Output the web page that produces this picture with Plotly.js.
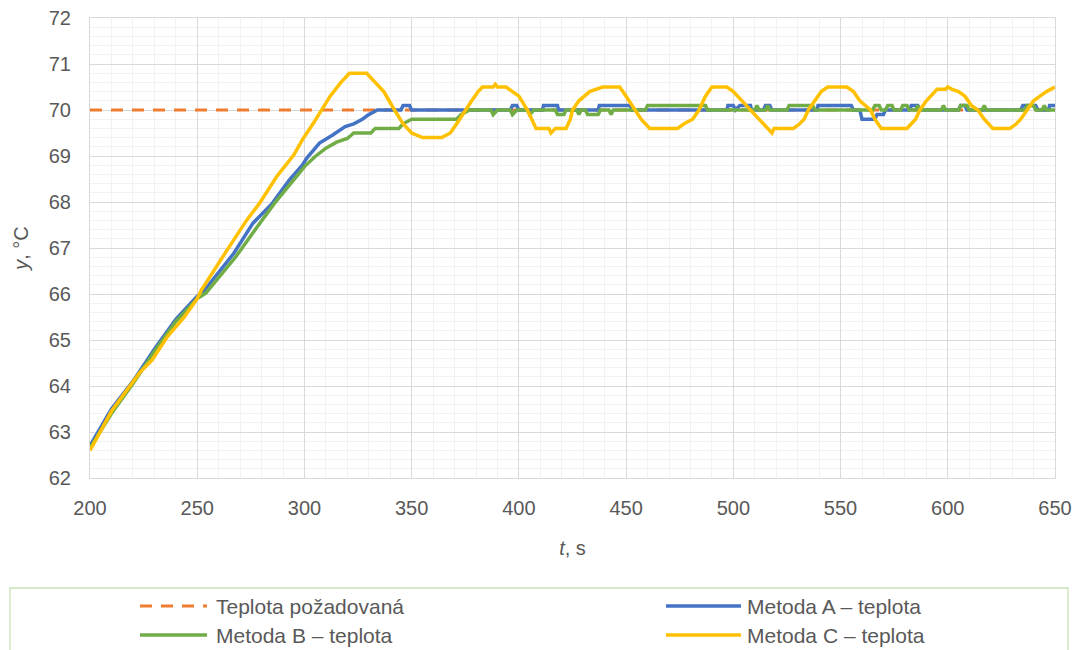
<!DOCTYPE html>
<html>
<head>
<meta charset="utf-8">
<script src="https://cdn.plot.ly/plotly-3.0.1.min.js"></script>
<style>
  html, body { margin: 0; padding: 0; background: #ffffff; }
  #chart { width: 1083px; height: 650px; }
</style>
</head>
<body>
<div id="chart"></div>
<script>
// Setpoint temperature, °C
const setpointT = [200, 650];
const setpointY = [70, 70];

// Method A – measured temperature (t in s, y in °C)
const methodAT = [200, 210, 220, 230, 240, 250, 253.5, 267, 276, 285, 293, 299, 301, 307, 313, 319, 323, 327, 330, 334,
  345, 346, 349, 350, 396, 397, 399, 400, 411, 411.5, 418, 418.5, 437, 437.5, 452, 452.5,
  497, 497.5, 500, 501, 503, 508, 508.5, 514, 515, 517, 518, 539, 539.5, 555, 556,
  559, 560, 566, 567, 570, 571, 582, 583, 586, 587, 605, 606, 608, 609, 634, 635, 641, 642, 647, 647.5, 650];
const methodAY = [62.7, 63.5, 64.1, 64.8, 65.45, 65.95, 66.09, 66.88, 67.54, 67.97, 68.48, 68.8, 68.95, 69.28, 69.45, 69.64, 69.7, 69.8, 69.9, 70.0,
  70.0, 70.1, 70.1, 70.0, 70.0, 70.1, 70.1, 70.0, 70.0, 70.1, 70.1, 70.0, 70.0, 70.1, 70.1, 70.0,
  70.0, 70.1, 70.1, 70.0, 70.1, 70.1, 70.0, 70.0, 70.1, 70.1, 70.0, 70.0, 70.1, 70.1, 70.0,
  70.0, 69.8, 69.8, 69.9, 69.9, 70.0, 70.0, 70.1, 70.1, 70.0, 70.0, 70.1, 70.1, 70.0, 70.0, 70.1, 70.1, 70.0, 70.0, 70.1, 70.1];

// Method B – measured temperature
const methodBT = [200, 210, 220, 230, 240, 250, 254, 268, 278, 286, 295, 300, 305, 310, 315, 320, 323, 331, 333, 344, 346, 350, 371, 373, 377,
  387, 388, 390, 396, 397, 399, 404, 405, 407, 417, 418, 421, 422, 427, 428, 429, 431, 432, 437, 438, 442, 443, 444,
  459, 460, 487, 488, 510, 511, 512, 515, 516, 517, 525, 526, 537, 538,
  565, 566, 568, 569, 571, 572, 574, 575, 578, 579, 581, 582, 585, 586, 587,
  597, 598, 599, 605, 606, 609, 610, 616, 617, 618, 636, 637, 640, 641, 644, 645, 646, 650];
const methodBY = [62.65, 63.4, 64.05, 64.75, 65.4, 65.9, 66.02, 66.81, 67.46, 67.97, 68.48, 68.77, 68.99, 69.17, 69.3, 69.38, 69.5, 69.5, 69.6, 69.6, 69.7, 69.8, 69.8, 69.9, 70.0,
  70.0, 69.9, 70.0, 70.0, 69.9, 70.0, 70.0, 69.9, 70.0, 70.0, 69.9, 69.9, 70.0, 70.0, 69.9, 70.0, 70.0, 69.9, 69.9, 70.0, 70.0, 69.9, 70.0,
  70.0, 70.1, 70.1, 70.0, 70.0, 70.1, 70.0, 70.0, 70.1, 70.0, 70.0, 70.1, 70.1, 70.0,
  70.0, 70.1, 70.1, 70.0, 70.0, 70.1, 70.1, 70.0, 70.0, 70.1, 70.1, 70.0, 70.0, 70.1, 70.0,
  70.0, 70.1, 70.0, 70.0, 70.1, 70.1, 70.0, 70.0, 70.1, 70.0, 70.0, 70.1, 70.1, 70.0, 70.0, 70.1, 70.0, 70.0];

// Method C – measured temperature
const methodCT = [200, 210, 223, 229, 236, 244, 250, 252, 264, 273, 279, 287, 295, 299, 304, 308, 312, 317, 321, 329,
  333, 337, 342, 346, 350, 355, 364, 368, 371, 375, 378, 381, 383, 388, 389, 390, 394, 397, 400, 404,
  406, 408, 414, 415, 417, 422, 424, 425, 428, 433, 439, 447, 450, 454, 457, 461, 474, 477, 481, 484,
  487, 490, 497, 500, 504, 508, 512, 516, 518, 519, 528, 531, 533, 535, 538, 541, 544, 553, 556, 559,
  564, 566, 569, 581, 583, 585, 587, 590, 594, 595, 599, 600, 602, 605, 608, 611, 614, 617, 621, 629,
  632, 634, 637, 640, 643, 646, 650];
const methodCY = [62.6, 63.45, 64.28, 64.57, 65.07, 65.5, 65.9, 66.09, 66.96, 67.6, 67.97, 68.55, 69.02, 69.35, 69.7, 70.0, 70.3, 70.6, 70.8, 70.8,
  70.6, 70.4, 70.0, 69.7, 69.5, 69.4, 69.4, 69.5, 69.7, 70.0, 70.2, 70.4, 70.5, 70.5, 70.56, 70.5, 70.5, 70.4, 70.3, 70.0,
  69.8, 69.6, 69.6, 69.5, 69.6, 69.6, 69.8, 70.0, 70.2, 70.4, 70.5, 70.5, 70.3, 70.0, 69.8, 69.6, 69.6, 69.7, 69.8, 70.0,
  70.3, 70.5, 70.5, 70.4, 70.2, 70.0, 69.8, 69.6, 69.5, 69.6, 69.6, 69.7, 69.8, 70.0, 70.2, 70.4, 70.5, 70.5, 70.4, 70.2,
  70.0, 69.8, 69.6, 69.6, 69.7, 69.8, 70.0, 70.2, 70.4, 70.45, 70.45, 70.5, 70.45, 70.4, 70.3, 70.1, 70.0, 69.8, 69.6, 69.6,
  69.7, 69.8, 70.0, 70.2, 70.3, 70.4, 70.5];

const seriesNames = ['Teplota požadovaná', 'Metoda A – teplota', 'Metoda B – teplota', 'Metoda C – teplota'];
const seriesColors = ['#ED7D31', '#4472C4', '#70AD47', '#FFC000'];

const FONT = 'Liberation Sans, Arial, sans-serif';
const TEXT = '#595959';
const LW = 3.5;
const SET_DASH = '12px,9px';

// Plot-area geometry in pixels, used to place the legend below the axes
const W = 1083, H = 650;
const M = { l: 90, r: 28, t: 18, b: 172 };
const plotW = W - M.l - M.r, plotH = H - M.t - M.b;
const px = x => (x - M.l) / plotW;            // page x -> paper x
const py = y => (H - M.b - y) / plotH;        // page y -> paper y

const traces = [
  { x: setpointT, y: setpointY, name: seriesNames[0], mode: 'lines',
    line: { color: seriesColors[0], width: 3, dash: SET_DASH } },
  { x: methodAT, y: methodAY, name: seriesNames[1], mode: 'lines',
    line: { color: seriesColors[1], width: LW } },
  { x: methodBT, y: methodBY, name: seriesNames[2], mode: 'lines',
    line: { color: seriesColors[2], width: LW } },
  { x: methodCT, y: methodCY, name: seriesNames[3], mode: 'lines',
    line: { color: seriesColors[3], width: LW } }
];

// Legend: framed box with two columns of entries
const legendBox = { x0: 10, x1: 1068, y0: 588, y1: 662 };
const legendRows = [606, 635];
const legendCols = [{ s0: 140, s1: 207, tx: 214 }, { s0: 666, s1: 741, tx: 745 }];
const legendSlots = [[0, 0], [1, 0], [0, 1], [1, 1]];   // [col, row] for each series

const shapes = [{
  type: 'rect', xref: 'paper', yref: 'paper',
  x0: px(legendBox.x0), x1: px(legendBox.x1), y0: py(legendBox.y0), y1: py(legendBox.y1),
  line: { color: '#c9e3b8', width: 1.3 }, fillcolor: 'rgba(0,0,0,0)'
}];
const annotations = [];
seriesNames.forEach((name, i) => {
  const [c, r] = legendSlots[i];
  const col = legendCols[c], yRow = legendRows[r];
  shapes.push({
    type: 'line', xref: 'paper', yref: 'paper',
    x0: px(col.s0), x1: px(col.s1), y0: py(yRow), y1: py(yRow),
    line: { color: seriesColors[i], width: i === 0 ? 3 : LW, dash: i === 0 ? SET_DASH : 'solid' }
  });
  annotations.push({
    xref: 'paper', yref: 'paper', x: px(col.tx), y: py(yRow),
    xanchor: 'left', yanchor: 'middle', showarrow: false, text: name,
    font: { family: FONT, size: 21, color: TEXT }
  });
});

const layout = {
  width: W, height: H,
  margin: M,
  paper_bgcolor: '#ffffff', plot_bgcolor: '#ffffff',
  font: { family: FONT, size: 20, color: TEXT },
  showlegend: false,
  xaxis: {
    range: [200, 650], dtick: 50, tick0: 200, automargin: false,
    showgrid: true, gridcolor: '#d9d9d9', gridwidth: 1,
    minor: { dtick: 10, showgrid: true, gridcolor: '#f2f2f2', gridwidth: 1 },
    zeroline: false, showline: true, mirror: true, linecolor: '#d9d9d9', linewidth: 1,
    ticks: '', ticklabelstandoff: 12, tickfont: { family: FONT, size: 20, color: TEXT },
    title: { text: '<i>t</i>, s', font: { family: FONT, size: 20, color: TEXT }, standoff: 22 }
  },
  yaxis: {
    range: [62, 72], dtick: 1, tick0: 62, automargin: false,
    showgrid: true, gridcolor: '#d9d9d9', gridwidth: 1,
    minor: { dtick: 0.2, showgrid: true, gridcolor: '#f2f2f2', gridwidth: 1 },
    zeroline: false, showline: true, mirror: true, linecolor: '#d9d9d9', linewidth: 1,
    ticks: '', ticklabelstandoff: 14, tickfont: { family: FONT, size: 20, color: TEXT },
    title: { text: '<i>y</i>, °C', font: { family: FONT, size: 20, color: TEXT }, standoff: 14 }
  },
  shapes: shapes,
  annotations: annotations
};

Plotly.newPlot('chart', traces, layout, { displayModeBar: false, staticPlot: true });
</script>
</body>
</html>
